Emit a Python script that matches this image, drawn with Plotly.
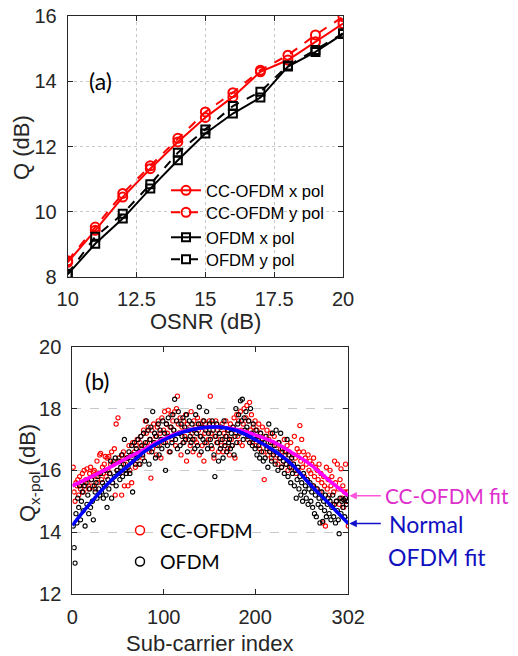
import plotly.graph_objects as go

# ---------------- (a) Q vs OSNR ----------------
osnr = [10, 11, 12, 13, 14, 15, 16, 17, 18, 19, 20]
cc_x = [8.45, 9.43, 10.45, 11.32, 12.14, 12.89, 13.52, 14.29, 14.65, 15.21, 15.77]
cc_y = [8.5, 9.53, 10.56, 11.41, 12.25, 13.06, 13.65, 14.34, 14.8, 15.42, 15.98]
of_x = [8.08, 9.02, 9.79, 10.71, 11.58, 12.4, 13.01, 13.5, 14.45, 14.9, 15.45]
of_y = [8.1, 9.23, 9.94, 10.84, 11.81, 12.52, 13.24, 13.68, 14.48, 14.96, 15.47]

# ---------------- (b) Q per sub-carrier ----------------
subcarrier = list(range(1, 303))
cc_q = [
    16.1, 15.3, 15.0, 15.6, 15.5, 15.7, 15.2, 15.8, 15.4, 15.6,
    15.9, 15.3, 16.0, 15.5, 15.7, 16.05, 15.6, 15.4, 15.9, 16.1,
    15.7, 15.5, 15.95, 16.0, 15.4, 15.8, 16.3, 15.6, 15.9, 16.5,
    16.55, 15.7, 16.1, 15.9, 16.2, 16.45, 15.8, 16.4, 16.0, 16.45,
    15.9, 16.2, 16.6, 15.6, 16.3, 16.7, 15.2, 17.5, 16.0, 17.7,
    16.4, 15.9, 16.3, 15.2, 16.5, 16.6, 15.5, 16.2, 15.9, 16.4,
    15.5, 16.8, 16.0, 16.5, 15.6, 16.9, 16.3, 16.6, 16.1, 16.8,
    17.0, 16.5, 16.2, 16.9, 17.1, 16.7, 16.4, 17.3, 16.8, 17.6,
    17.2, 16.9, 17.4, 16.6, 17.0, 15.75, 17.3, 16.7, 17.5, 16.9,
    17.1, 16.5, 17.4, 17.6, 16.8, 17.2, 16.4, 17.7, 17.0, 17.3,
    17.9, 16.9, 17.5, 17.2, 17.95, 16.6, 17.4, 17.8, 17.0, 17.6,
    17.3, 17.9, 16.8, 18.0, 18.4, 17.5, 17.2, 17.7, 16.5, 17.4,
    16.9, 17.6, 17.1, 17.8, 16.3, 17.5, 17.0, 17.3, 16.8, 17.9,
    17.2, 16.6, 17.6, 17.0, 17.4, 16.9, 17.7, 17.3, 16.5, 17.5,
    17.1, 16.8, 17.6, 16.3, 17.2, 17.5, 16.9, 17.4, 17.0, 17.6,
    18.4, 17.2, 16.7, 17.5, 16.4, 17.1, 17.6, 16.9, 17.3, 16.6,
    17.4, 17.0, 16.8, 17.5, 16.6, 17.2, 16.9, 17.6, 17.1, 16.7,
    17.3, 16.5, 17.5, 17.0, 16.8, 17.4, 17.7, 16.4, 17.2, 17.8,
    17.1, 17.6, 16.9, 17.9, 17.3, 16.8, 17.5, 18.0, 17.2, 17.7,
    18.1, 17.0, 17.6, 18.2, 17.3, 17.8, 16.9, 17.4, 17.1, 17.6,
    16.8, 17.3, 17.0, 17.5, 16.7, 17.2, 16.9, 17.4, 16.6, 15.7,
    17.1, 16.8, 17.3, 16.5, 17.0, 16.7, 17.2, 16.4, 16.9, 16.6,
    17.1, 16.3, 16.8, 16.5, 16.2, 16.9, 16.4, 16.7, 16.1, 16.6,
    16.3, 17.0, 16.5, 16.2, 16.8, 16.0, 16.6, 16.3, 16.9, 16.1,
    16.5, 16.2, 17.1, 16.4, 15.9, 16.7, 16.0, 16.6, 17.45, 16.3,
    17.0, 16.1, 16.6, 15.8, 16.4, 16.2, 15.7, 16.5, 16.0, 16.3,
    15.9, 16.2, 15.5, 16.4, 15.8, 16.1, 15.4, 16.0, 15.7, 16.2,
    15.3, 15.9, 15.6, 14.3, 15.8, 15.5, 14.2, 16.1, 15.4, 15.7,
    15.2, 16.0, 15.5, 15.8, 14.9, 15.3, 16.3, 15.6, 15.0, 16.2,
    15.4, 14.9, 15.7, 16.05, 15.1, 15.5, 14.8, 15.3, 16.2, 15.0,
    15.3, 14.2,
]
ofdm_q = [
    14.2, 13.5, 13.0, 14.6, 14.3, 15.1, 14.8, 15.5, 14.4, 15.0,
    15.3, 14.7, 15.5, 14.2, 15.6, 14.9, 15.2, 14.6, 15.4, 14.8,
    15.7, 15.0, 14.4, 15.5, 15.3, 15.6, 15.1, 15.8, 15.4, 15.2,
    15.9, 15.3, 15.6, 15.1, 15.5, 16.0, 15.2, 14.8, 15.7, 15.4,
    15.9, 16.3, 15.1, 15.6, 16.2, 15.8, 16.4, 15.5, 16.0, 15.9,
    16.3, 15.7, 16.1, 16.5, 15.8, 16.2, 17.0, 16.0, 15.9, 16.4,
    16.1, 16.6, 15.9, 16.3, 16.8, 15.3, 16.5, 16.9, 16.2, 16.7,
    16.4, 17.0, 16.6, 16.2, 17.1, 16.8, 16.5, 17.2, 16.3, 16.9,
    17.6, 16.7, 17.3, 16.2, 17.0, 17.4, 16.6, 17.9, 16.9, 17.2,
    16.4, 17.1, 16.8, 17.5, 16.5, 17.3, 17.0, 16.7, 17.6, 16.9,
    17.2, 16.0, 17.5, 16.8, 17.7, 17.1, 16.6, 17.4, 16.9, 17.8,
    17.3, 18.3, 17.0, 17.6, 16.7, 17.9, 17.2, 16.8, 17.5, 17.1,
    17.7, 16.9, 17.4, 17.0, 17.8, 16.6, 17.3, 17.6, 17.1, 16.9,
    17.5, 17.0, 17.3, 16.7, 17.8, 17.2, 16.8, 17.5, 18.05, 17.1,
    16.6, 17.4, 17.0, 17.6, 16.9, 17.3, 17.9, 16.7, 17.2, 17.5,
    17.0, 16.8, 17.6, 17.3, 16.5, 15.8, 17.1, 17.5, 16.9, 16.3,
    17.2, 16.7, 17.4, 17.0, 16.4, 17.6, 16.8, 17.1, 16.6, 17.3,
    16.9, 17.0, 16.7, 17.2, 16.8, 17.4, 16.5, 17.1, 18.0, 16.9,
    17.5, 17.8, 17.2, 18.25, 17.6, 18.3, 17.0, 17.7, 17.3, 17.9,
    17.4, 17.1, 17.6, 16.9, 18.0, 17.2, 16.8, 17.5, 17.0, 16.7,
    17.3, 16.5, 17.1, 16.8, 16.4, 17.2, 16.6, 17.0, 16.3, 16.9,
    16.4, 17.1, 16.7, 16.1, 17.5, 16.6, 16.9, 16.3, 17.2, 16.5,
    16.8, 16.2, 17.3, 16.6, 16.0, 16.9, 16.4, 17.2, 16.1, 16.7,
    16.3, 15.9, 16.6, 16.2, 17.0, 15.8, 16.5, 16.1, 15.6, 16.4,
    15.9, 16.2, 15.5, 16.0, 15.1, 15.7, 16.1, 15.4, 15.8, 15.2,
    15.6, 15.0, 15.9, 15.3, 15.5, 15.1, 15.7, 14.9, 15.4, 15.6,
    15.0, 15.3, 14.8, 15.5, 14.6, 15.2, 14.5, 15.4, 14.9, 15.1,
    14.3, 14.8, 15.3, 14.35, 15.0, 14.7, 15.2, 14.5, 14.9, 15.1,
    14.6, 15.0, 14.4, 14.8, 15.2, 14.5, 14.9, 14.3, 15.0, 14.7,
    14.4, 13.95, 15.1, 14.6, 15.0, 14.8, 15.05, 14.5, 15.1, 14.9,
    14.4, 15.0,
]
fit_idx = [0, 20, 40, 60, 80, 100, 120, 140, 160, 180, 200, 220, 240, 260, 280, 302]
cc_fit = [15.5, 15.78, 16.08, 16.4, 16.7, 17.02, 17.25, 17.37, 17.4, 17.32, 17.15, 16.92, 16.58, 16.2, 15.7, 15.18]
ofdm_fit = [14.22, 14.95, 15.6, 16.12, 16.63, 16.98, 17.23, 17.37, 17.4, 17.28, 17.0, 16.65, 16.2, 15.55, 14.95, 14.28]

# page body has an 8px margin: the figure starts at (8, 8) in the window
OFF = 8
W, H = 518 - OFF, 656 - OFF
FONT = "Liberation Sans, Arial, sans-serif"
CAL = "Lato, Liberation Sans, sans-serif"
TXT = "#262626"


def px(xp):
    return (xp - OFF) / W


def py(yp):
    return 1 - (yp - OFF) / H


fig = go.Figure()

top_series = [
    ("CC-OFDM x pol", cc_x, "#ff0000", "solid", "circle-open", 9, "legend"),
    ("CC-OFDM y pol", cc_y, "#ff0000", "dash", "circle-open", 9, "legend3"),
    ("OFDM x pol", of_x, "#000000", "solid", "square-open", 8, "legend4"),
    ("OFDM y pol", of_y, "#000000", "dash", "square-open", 8, "legend5"),
]
for name, vals, col, dash, sym, size, leg in top_series:
    fig.add_trace(go.Scatter(x=osnr, y=vals, mode="lines+markers", name=name,
                             line=dict(color=col, width=2, dash=dash),
                             marker=dict(symbol=sym, size=size, color=col, line=dict(width=2)),
                             xaxis="x", yaxis="y", legend=leg))

# bottom plot traces
fig.add_trace(go.Scatter(x=subcarrier, y=cc_q, mode="markers", showlegend=False,
                         marker=dict(symbol="circle-open", size=4.2, color="#ff0000", line=dict(width=1.1)),
                         xaxis="x2", yaxis="y2"))
fig.add_trace(go.Scatter(x=subcarrier, y=ofdm_q, mode="markers", showlegend=False,
                         marker=dict(symbol="circle-open", size=4.2, color="#000000", line=dict(width=1.1)),
                         xaxis="x2", yaxis="y2"))
fig.add_trace(go.Scatter(x=fit_idx, y=cc_fit, mode="lines", showlegend=False,
                         line=dict(color="#ff00ff", width=3.5, shape="spline"),
                         xaxis="x2", yaxis="y2"))
fig.add_trace(go.Scatter(x=fit_idx, y=ofdm_fit, mode="lines", showlegend=False,
                         line=dict(color="#0000ff", width=3.5, shape="spline"),
                         xaxis="x2", yaxis="y2"))
# legend entries for bottom plot
fig.add_trace(go.Scatter(x=[None], y=[None], mode="markers", name="CC-OFDM",
                         marker=dict(symbol="circle-open", size=9, color="#ff0000", line=dict(width=1.5)),
                         xaxis="x2", yaxis="y2", legend="legend2", legendgroup="a"))
fig.add_trace(go.Scatter(x=[None], y=[None], mode="markers", name="OFDM",
                         marker=dict(symbol="circle-open", size=9, color="#000000", line=dict(width=1.5)),
                         xaxis="x2", yaxis="y2", legend="legend2", legendgroup="b"))

axis_common = dict(showline=True, linecolor="#262626", linewidth=1, mirror="allticks",
                   ticks="inside", ticklen=5, tickcolor="#262626",
                   tickfont=dict(family=FONT, size=20, color=TXT), automargin=False,
                   zeroline=False, ticklabeloverflow="allow")


def top_legend(row_center):
    return dict(x=px(166), y=py(row_center - 15), xanchor="left", yanchor="top",
                bgcolor="rgba(0,0,0,0)", borderwidth=0,
                font=dict(family=FONT, size=16.6, color="#000000"))


fig.update_layout(
    width=W, height=H,
    margin=dict(l=0, r=0, t=0, b=0),
    paper_bgcolor="white", plot_bgcolor="white",
    xaxis=dict(domain=[px(67.7), px(343)], range=[10, 20], tickvals=[10, 12.5, 15, 17.5, 20],
               ticktext=["10", "12.5", "15", "17.5", "20"],
               showgrid=True, gridcolor="#c8c8c8", griddash="dot", gridwidth=1,
               anchor="y", ticklabelstandoff=4, **axis_common),
    yaxis=dict(domain=[py(277), py(16)], range=[8, 16], tickvals=[8, 10, 12, 14, 16],
               showgrid=True, gridcolor="#c8c8c8", griddash="dot", gridwidth=1,
               anchor="x", ticklabelstandoff=6, **axis_common),
    xaxis2=dict(domain=[px(72.3), px(348.3)], range=[0, 302], tickvals=[0, 100, 200, 302],
                showgrid=False, anchor="y2", ticklabelstandoff=5, **axis_common),
    yaxis2=dict(domain=[py(594), py(346.7)], range=[12, 20], tickvals=[12, 14, 16, 18, 20],
                showgrid=True, gridcolor="#c8c8c8", griddash="dash", gridwidth=1,
                anchor="x2", ticklabelstandoff=6, **axis_common),
    legend=top_legend(188),
    legend3=top_legend(210),
    legend4=top_legend(235),
    legend5=top_legend(257),
    legend2=dict(x=px(120), y=py(511), xanchor="left", yanchor="top",
                 bgcolor="rgba(0,0,0,0)", borderwidth=0, traceorder="grouped",
                 tracegroupgap=3,
                 font=dict(family=CAL, size=19.5, color="#000000")),
    showlegend=True,
    # white backing behind the legend of (a), hiding the grid there
    shapes=[dict(type="rect", xref="paper", yref="paper", layer="between",
                 x0=px(170), x1=px(342.5), y0=py(276.5), y1=py(172),
                 fillcolor="white", line=dict(width=0))],
)

annotations = [
    dict(text="Q (dB)", x=px(22), y=py(148), textangle=-90),
    dict(text="OSNR (dB)", x=px(205), y=py(322)),
    dict(text="Q<sub>x-pol</sub> (dB)", x=px(29), y=py(473), textangle=-90),
    dict(text="Sub-carrier index", x=px(210), y=py(643)),
]
anns = []
for a in annotations:
    d = dict(xref="paper", yref="paper", showarrow=False, xanchor="center", yanchor="middle",
             font=dict(family=FONT, size=22, color=TXT))
    d.update(a)
    anns.append(d)

anns += [
    dict(text="(a)", x=11.2, y=14, xref="x", yref="y", showarrow=False,
         font=dict(family=CAL, size=23, color="#000000")),
    dict(text="(b)", x=28, y=18.9, xref="x2", yref="y2", showarrow=False,
         font=dict(family=CAL, size=23, color="#000000")),
    # arrows
    dict(text="", x=302, y=cc_fit[-1], xref="x2", yref="y2", showarrow=True,
         ax=34, ay=0, arrowhead=2, arrowsize=1, arrowwidth=1.5, arrowcolor="#ff55dd", standoff=1),
    dict(text="", x=302, y=ofdm_fit[-1], xref="x2", yref="y2", showarrow=True,
         ax=34, ay=0, arrowhead=2, arrowsize=1, arrowwidth=1.5, arrowcolor="#1010cc", standoff=1),
    dict(text="CC-OFDM fit", x=px(383), y=py(495), xref="paper", yref="paper",
         xanchor="left", yanchor="middle", showarrow=False,
         font=dict(family=CAL, size=20.8, color="#dd2fcc")),
    dict(text="Normal", x=px(387), y=py(524), xref="paper", yref="paper",
         xanchor="left", yanchor="middle", showarrow=False,
         font=dict(family=CAL, size=23, color="#1010c0")),
    dict(text="OFDM fit", x=px(386), y=py(557), xref="paper", yref="paper",
         xanchor="left", yanchor="middle", showarrow=False,
         font=dict(family=CAL, size=23, color="#1010c0")),
]
fig.update_layout(annotations=anns)

fig.write_html("out.html")
